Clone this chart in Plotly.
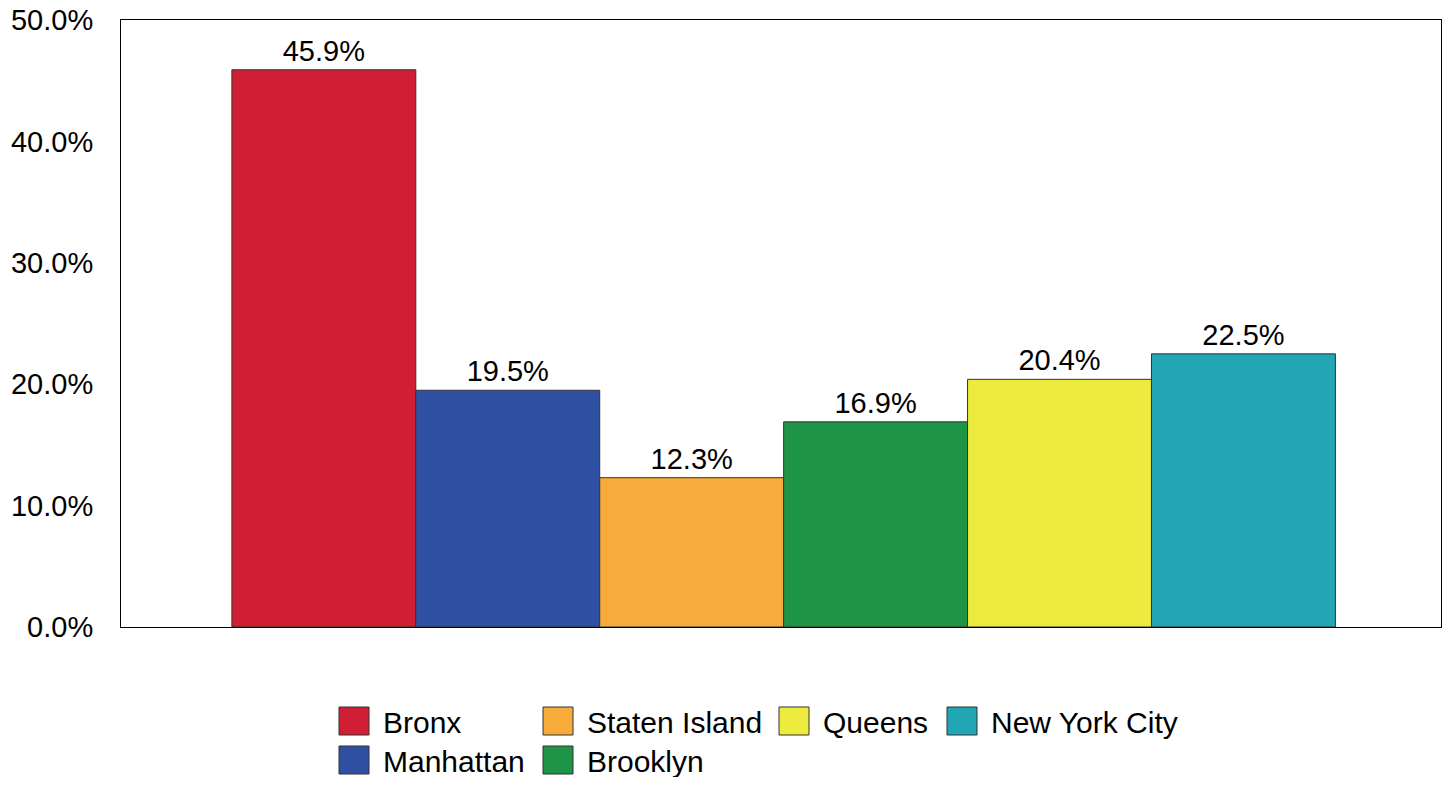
import plotly.graph_objects as go

# ---- data ----
areas = ["Bronx", "Manhattan", "Staten Island", "Brooklyn", "Queens", "New York City"]
values = [45.9, 19.5, 12.3, 16.9, 20.4, 22.5]
colors = ["#D01F34", "#2F50A3", "#F7AB3A", "#1E9446", "#EEEB3F", "#22A6B3"]
y_ticks = [0, 10, 20, 30, 40, 50]
y_tick_labels = ["0.0%", "10.0%", "20.0%", "30.0%", "40.0%", "50.0%"]

FONT = "Liberation Sans, Arial, Helvetica, sans-serif"

# target screen geometry (pixels) of the plot area; page body has an 8px margin
OFF = 8
PL, PR, PT, PB = 121, 1441, 20, 627
W, H = 1452 - 2 * OFF, 785 - 2 * OFF

fig = go.Figure()
for name, v, c in zip(areas, values, colors):
    fig.add_trace(go.Bar(
        x=[0], y=[v], name=name,
        marker=dict(color=c, line=dict(color="#333333", width=1)),
        text=[v], texttemplate="%{y:.1f}%", textposition="outside",
        textfont=dict(size=29, color="black", family=FONT),
        cliponaxis=False, showlegend=False,
        hovertemplate=name + ": %{y:.1f}%<extra></extra>",
    ))

# ---- manual legend (column-major, like the reference) ----
leg_cols = [339, 543, 779, 947]
leg_rows = [707, 746]
leg_pos = {"Bronx": (0, 0), "Manhattan": (0, 1), "Staten Island": (1, 0),
           "Brooklyn": (1, 1), "Queens": (2, 0), "New York City": (3, 0)}
SW, SH = 30, 28

def px_to_paper_x(sx):
    return (sx - PL) / (PR - PL)

def px_to_paper_y(sy):
    return (PB - sy) / (PB - PT)

shapes, annotations = [], []
for name, c in zip(areas, colors):
    ci, ri = leg_pos[name]
    sx, sy = leg_cols[ci], leg_rows[ri]
    shapes.append(dict(
        type="rect", xref="paper", yref="paper",
        x0=px_to_paper_x(sx), x1=px_to_paper_x(sx + SW),
        y0=px_to_paper_y(sy + SH), y1=px_to_paper_y(sy),
        fillcolor=c, line=dict(color="#333333", width=1), layer="above",
    ))
    annotations.append(dict(
        xref="paper", yref="paper", x=px_to_paper_x(sx + 42), y=px_to_paper_y(sy + SH / 2 + 1),
        xanchor="left", yanchor="middle", text=name, showarrow=False,
        font=dict(size=30, color="black", family=FONT),
    ))

fig.update_layout(
    width=W, height=H,
    margin=dict(l=PL - OFF, r=W - (PR - OFF), t=PT - OFF, b=H - (PB - OFF), pad=0,
                autoexpand=False),
    barmode="group", bargap=0.164, bargroupgap=0,
    plot_bgcolor="white", paper_bgcolor="white",
    font=dict(family=FONT, size=29, color="black"),
    showlegend=False,
    shapes=shapes, annotations=annotations,
    xaxis=dict(range=[-0.502, 0.498], showticklabels=False, ticks="", showgrid=False,
               automargin=False,
               zeroline=False, showline=True, linecolor="black", linewidth=1, mirror=True),
    yaxis=dict(range=[0, 50], tickvals=y_ticks, ticktext=y_tick_labels,
               showgrid=False, zeroline=False, ticks="", ticklabelstandoff=21,
               ticklabeloverflow="allow", automargin=False,
               showline=True, linecolor="black", linewidth=1, mirror=True,
               tickfont=dict(size=29, family=FONT, color="black")),
)

fig.write_html("out.html", config={"displayModeBar": False})
